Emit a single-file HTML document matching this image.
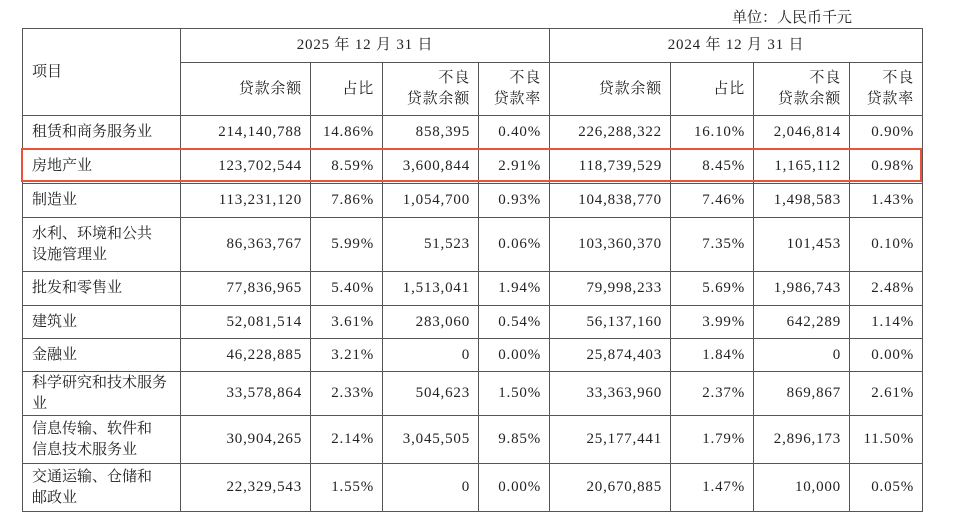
<!DOCTYPE html>
<html><head><meta charset="utf-8"><style>
html,body{margin:0;padding:0;background:#fff;width:960px;height:518px;overflow:hidden}
body{font-family:"Liberation Serif","Noto Serif CJK SC",serif;color:#222;font-size:15px;position:relative}
.unit{position:absolute;left:732px;top:6px;font-size:15px}
table{position:absolute;left:22px;top:28px;border-collapse:collapse;table-layout:fixed}
td{border:1px solid #555;padding:0 8px;text-align:right;line-height:21px;vertical-align:middle;letter-spacing:0.8px;white-space:nowrap}
td.l{text-align:left;padding-left:9px;letter-spacing:0}
td.c{text-align:center}
.red{position:absolute;left:21px;top:148px;width:901px;height:34px;border:2px solid #e8533a;box-sizing:border-box}
</style></head><body>
<div class="unit">单位：人民币千元</div>
<table>
<colgroup><col style="width:158px"><col style="width:130px"><col style="width:72px"><col style="width:96px"><col style="width:71px"><col style="width:121px"><col style="width:83px"><col style="width:96px"><col style="width:73px"></colgroup>
<tr style="height:34px"><td class="l" rowspan="2">项目</td><td class="c" colspan="4">2025 年 12 月 31 日</td><td class="c" colspan="4">2024 年 12 月 31 日</td></tr>
<tr style="height:53px"><td>贷款余额</td><td>占比</td><td>不良<br>贷款余额</td><td>不良<br>贷款率</td><td>贷款余额</td><td>占比</td><td>不良<br>贷款余额</td><td>不良<br>贷款率</td></tr>
<tr style="height:34px"><td class="l">租赁和商务服务业</td><td>214,140,788</td><td>14.86%</td><td>858,395</td><td>0.40%</td><td>226,288,322</td><td>16.10%</td><td>2,046,814</td><td>0.90%</td></tr>
<tr style="height:34px"><td class="l">房地产业</td><td>123,702,544</td><td>8.59%</td><td>3,600,844</td><td>2.91%</td><td>118,739,529</td><td>8.45%</td><td>1,165,112</td><td>0.98%</td></tr>
<tr style="height:34px"><td class="l">制造业</td><td>113,231,120</td><td>7.86%</td><td>1,054,700</td><td>0.93%</td><td>104,838,770</td><td>7.46%</td><td>1,498,583</td><td>1.43%</td></tr>
<tr style="height:54px"><td class="l">水利、环境和公共<br>设施管理业</td><td>86,363,767</td><td>5.99%</td><td>51,523</td><td>0.06%</td><td>103,360,370</td><td>7.35%</td><td>101,453</td><td>0.10%</td></tr>
<tr style="height:34px"><td class="l">批发和零售业</td><td>77,836,965</td><td>5.40%</td><td>1,513,041</td><td>1.94%</td><td>79,998,233</td><td>5.69%</td><td>1,986,743</td><td>2.48%</td></tr>
<tr style="height:33px"><td class="l">建筑业</td><td>52,081,514</td><td>3.61%</td><td>283,060</td><td>0.54%</td><td>56,137,160</td><td>3.99%</td><td>642,289</td><td>1.14%</td></tr>
<tr style="height:33px"><td class="l">金融业</td><td>46,228,885</td><td>3.21%</td><td>0</td><td>0.00%</td><td>25,874,403</td><td>1.84%</td><td>0</td><td>0.00%</td></tr>
<tr style="height:44px"><td class="l">科学研究和技术服务<br>业</td><td>33,578,864</td><td>2.33%</td><td>504,623</td><td>1.50%</td><td>33,363,960</td><td>2.37%</td><td>869,867</td><td>2.61%</td></tr>
<tr style="height:48px"><td class="l">信息传输、软件和<br>信息技术服务业</td><td>30,904,265</td><td>2.14%</td><td>3,045,505</td><td>9.85%</td><td>25,177,441</td><td>1.79%</td><td>2,896,173</td><td>11.50%</td></tr>
<tr style="height:48px"><td class="l">交通运输、仓储和<br>邮政业</td><td>22,329,543</td><td>1.55%</td><td>0</td><td>0.00%</td><td>20,670,885</td><td>1.47%</td><td>10,000</td><td>0.05%</td></tr>
</table>
<div class="red"></div>
</body></html>
